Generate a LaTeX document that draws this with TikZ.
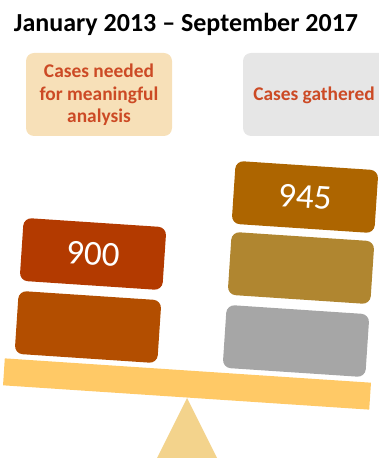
\documentclass[tikz,border=0pt]{standalone}
\usepackage{fontspec}
\setmainfont{Carlito}
\definecolor{hdrtxt}{HTML}{CC4A25}
\definecolor{hdrtan}{HTML}{F7E0B8}
\definecolor{hdrgray}{HTML}{E6E6E6}
\definecolor{boxA}{HTML}{B33A00}
\definecolor{boxB}{HTML}{B34E00}
\definecolor{boxC}{HTML}{AD6500}
\definecolor{boxD}{HTML}{B08630}
\definecolor{boxE}{HTML}{A6A6A6}
\definecolor{beamc}{HTML}{FFC966}
\definecolor{fulc}{HTML}{F3D38C}
\begin{document}
\begin{tikzpicture}[x=1pt,y=1pt,
  hdrbox/.style={rounded corners=8pt, inner sep=0pt, align=center, text=hdrtxt,
    font=\fontsize{19.4}{22.5}\selectfont\bfseries},
  weight/.style={rounded corners=8pt, rotate=-3.8, minimum width=143pt, minimum height=63pt,
    inner sep=0pt, text=white, font=\fontsize{35}{38}\selectfont}]
\useasboundingbox (0,0) rectangle (379,458);
\node[font=\fontsize{26}{30}\selectfont\bfseries] (title) at (186,434) {January 2013 – September 2017};
\begin{scope}
\clip (0,0) rectangle (379,458);
\fill[hdrtan, rounded corners=8pt] (26,322) rectangle (172,405);
\fill[hdrgray, rounded corners=8pt] (243,322) rectangle (400,405);
\node[hdrbox] (need) at (99,363) {Cases needed\\for meaningful\\analysis};
\node[hdrbox] (gath) at (314,363) {Cases gathered};
\fill[fulc] (187,60) -- (154.5,-5) -- (219.5,-5) -- cycle;
\end{scope}
\node[fill=beamc, rotate=-3.8, minimum width=367pt, minimum height=27pt, inner sep=0pt] (beam) at (187,74) {};
\node[weight, fill=boxB] (lb) at (88,131) {};
\node[weight, fill=boxA] (la) at (93,204) {900};
\node[weight, fill=boxE] (rc) at (296,117) {};
\node[weight, fill=boxD] (rb) at (301,190) {};
\node[weight, fill=boxC] (ra) at (305,261) {945};
\end{tikzpicture}
\end{document}
